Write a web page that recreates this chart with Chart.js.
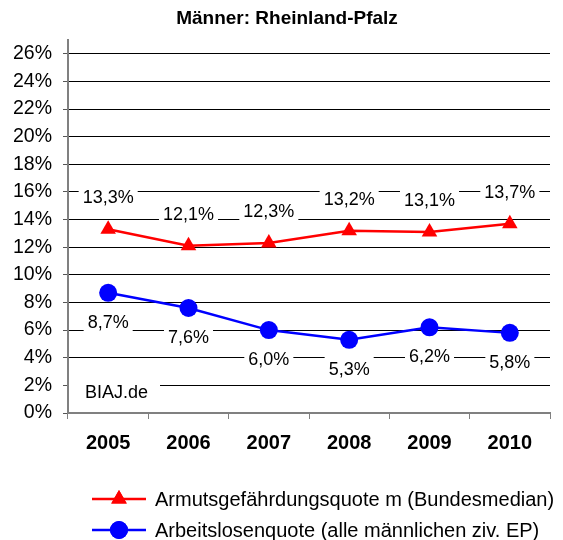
<!DOCTYPE html>
<html lang="de">
<head>
<meta charset="UTF-8">
<title>Männer: Rheinland-Pfalz</title>
<script src="https://cdn.jsdelivr.net/npm/chart.js@4.4.0/dist/chart.umd.min.js"></script>
<style>
  html, body { margin: 0; padding: 0; background: #fff; }
  #wrap { width: 563px; height: 540px; }
</style>
</head>
<body>
<div id="wrap"><canvas id="myChart" width="563" height="540"></canvas></div>
<script>
// data
const years = ['2005', '2006', '2007', '2008', '2009', '2010'];
const armutQuote = [13.3, 12.1, 12.3, 13.2, 13.1, 13.7];
const alQuote = [8.7, 7.6, 6.0, 5.3, 6.2, 5.8];
const seriesNames = ['Armutsgefährdungsquote m (Bundesmedian)', 'Arbeitslosenquote (alle männlichen ziv. EP)'];
const yTickValues = [0, 2, 4, 6, 8, 10, 12, 14, 16, 18, 20, 22, 24, 26];
const chartTitle = 'Männer: Rheinland-Pfalz';

const FONT = "'Liberation Sans', Arial, sans-serif";

function fmt(v) {
    return v.toFixed(1).replace('.', ',') + '%';
}

// title sits a bit right of the canvas centre in the original
const titlePlugin = {
    id: 'titlePlugin',
    afterDraw(chart) {
        const ctx = chart.ctx;
        ctx.save();
        ctx.font = 'bold 19px ' + FONT;
        ctx.fillStyle = '#000';
        ctx.textAlign = 'center';
        ctx.textBaseline = 'middle';
        ctx.fillText(chartTitle, 287, 19);
        ctx.restore();
    }
};

// value labels with white boxes
const valueLabels = {
    id: 'valueLabels',
    afterDatasetsDraw(chart) {
        const ctx = chart.ctx;
        const offsets = [-32, 29];
        ctx.save();
        ctx.font = '18px ' + FONT;
        ctx.textAlign = 'center';
        ctx.textBaseline = 'middle';
        chart.data.datasets.forEach((ds, i) => {
            const meta = chart.getDatasetMeta(i);
            meta.data.forEach((pt, j) => {
                const txt = fmt(ds.data[j]);
                const w = ctx.measureText(txt).width;
                const y = pt.y + offsets[i];
                ctx.fillStyle = '#fff';
                ctx.fillRect(pt.x - w / 2 - 4, y - 12, w + 8, 24);
                ctx.fillStyle = '#000';
                ctx.fillText(txt, pt.x, y + 1);
            });
        });
        ctx.restore();
    }
};

// "BIAJ.de" box above the grid
const watermark = {
    id: 'watermark',
    beforeDatasetsDraw(chart) {
        const ctx = chart.ctx;
        const a = chart.chartArea;
        ctx.save();
        ctx.fillStyle = '#fff';
        ctx.fillRect(a.left + 1, a.bottom - 36, 91, 28);
        ctx.fillStyle = '#000';
        ctx.font = '18px ' + FONT;
        ctx.textBaseline = 'middle';
        ctx.fillText('BIAJ.de', a.left + 17, a.bottom - 20);
        ctx.restore();
    }
};

// legend with line + marker like the original
const lineLegend = {
    id: 'lineLegend',
    afterDraw(chart) {
        const ctx = chart.ctx;
        ctx.save();
        ctx.font = '20px ' + FONT;
        ctx.textBaseline = 'middle';
        chart.data.datasets.forEach((ds, i) => {
            const y = 499 + i * 31;
            ctx.strokeStyle = ds.borderColor;
            ctx.lineWidth = 2.5;
            ctx.beginPath();
            ctx.moveTo(92, y);
            ctx.lineTo(146, y);
            ctx.stroke();
            ctx.fillStyle = ds.backgroundColor;
            Chart.helpers.drawPoint(ctx, { pointStyle: ds.pointStyle, radius: 9, rotation: 0, borderWidth: 0 }, 119, y);
            ctx.fill();
            ctx.fillStyle = '#000';
            ctx.fillText(ds.label, 155, y + 1);
        });
        ctx.restore();
    }
};

const ctx = document.getElementById('myChart').getContext('2d');
const myChart = new Chart(ctx, {
    type: 'line',
    data: {
        labels: years,
        datasets: [
            {
                label: seriesNames[0],
                data: armutQuote,
                borderColor: '#ff0000',
                backgroundColor: '#ff0000',
                borderWidth: 2.5,
                pointStyle: 'triangle',
                pointRadius: 9,
                pointBorderWidth: 0,
                tension: 0
            },
            {
                label: seriesNames[1],
                data: alQuote,
                borderColor: '#0000ff',
                backgroundColor: '#0000ff',
                borderWidth: 2.5,
                pointStyle: 'circle',
                pointRadius: 9,
                pointBorderWidth: 0,
                tension: 0
            }
        ]
    },
    options: {
        responsive: false,
        animation: false,
        layout: { padding: { left: 0, right: 13, top: 40, bottom: 77 } },
        plugins: {
            legend: { display: false },
            tooltip: { enabled: false },
            title: { display: false }
        },
        scales: {
            x: {
                offset: true,
                grid: { display: true, drawOnChartArea: false, offset: true, tickLength: 6, color: '#808080' },
                border: { color: '#808080', width: 2 },
                ticks: { color: '#000', font: { family: FONT, size: 20, weight: 'bold' }, padding: 12 },
                afterFit(scale) { scale.height = 50; }
            },
            y: {
                min: 0,
                max: 27,
                afterBuildTicks(axis) {
                    axis.ticks = yTickValues.map(v => ({ value: v }));
                },
                grid: {
                    color: c => (c.tick && c.tick.value === 0) ? 'rgba(0,0,0,0)' : '#000',
                    tickColor: '#555',
                    tickLength: 5,
                    lineWidth: 1
                },
                border: { color: '#808080', width: 2 },
                ticks: {
                    color: '#000',
                    padding: 11,
                    font: { family: FONT, size: 19.5 },
                    callback: v => v + '%'
                },
                afterFit(scale) { scale.width = 68; }
            }
        }
    },
    plugins: [titlePlugin, watermark, valueLabels, lineLegend]
});
</script>
</body>
</html>
